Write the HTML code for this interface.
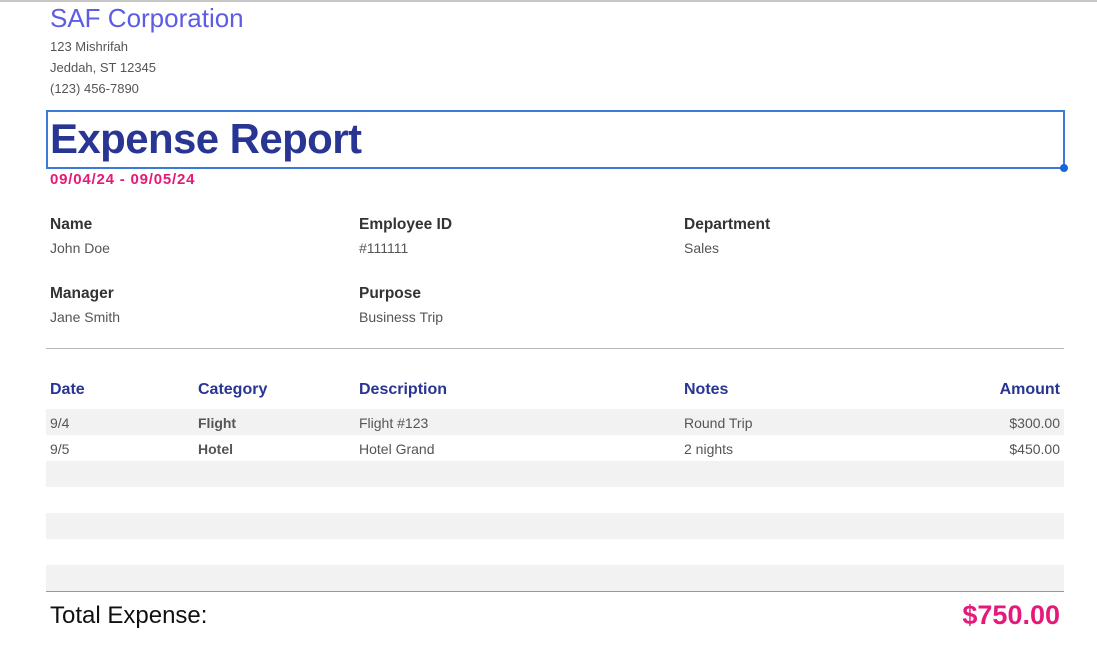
<!DOCTYPE html>
<html><head><style>
body{margin:0;width:1097px;height:656px;background:#fff;font-family:"Liberation Sans",sans-serif;position:relative;overflow:hidden}
div{position:absolute;white-space:nowrap}
.a{font-size:13px;color:#555;left:50px}
.l{font-size:15.5px;font-weight:bold;color:#333}
.v{font-size:14px;color:#555}
.h{font-size:16px;font-weight:bold;color:#283593;top:381px}
.s{left:46px;width:1018px;height:26px;background:#f2f2f2}
.c{font-size:14px;color:#555}
</style></head><body>
<div style="left:0;top:0;width:1097px;height:2px;background:#c8c8c8"></div>
<div style="left:50px;top:3px;font-size:26px;color:#5c5ce6">SAF Corporation</div>
<div class="a" style="top:39px">123 Mishrifah</div>
<div class="a" style="top:60px">Jeddah, ST 12345</div>
<div class="a" style="top:81px">(123) 456-7890</div>
<div style="left:46px;top:110px;width:1015px;height:55px;border:2px solid #3a7bd5"></div>
<div style="left:1060px;top:164px;width:8px;height:8px;border-radius:50%;background:#1a66d6"></div>
<div style="left:50px;top:115px;font-size:42px;font-weight:bold;color:#283593;letter-spacing:-0.6px">Expense Report</div>
<div style="left:50px;top:171px;font-size:15px;font-weight:bold;color:#e6197a;letter-spacing:0.8px">09/04/24 - 09/05/24</div>
<div class="l" style="left:50px;top:216px">Name</div><div class="v" style="left:50px;top:240px">John Doe</div>
<div class="l" style="left:359px;top:216px">Employee ID</div><div class="v" style="left:359px;top:240px">#111111</div>
<div class="l" style="left:684px;top:216px">Department</div><div class="v" style="left:684px;top:240px">Sales</div>
<div class="l" style="left:50px;top:285px">Manager</div><div class="v" style="left:50px;top:309px">Jane Smith</div>
<div class="l" style="left:359px;top:285px">Purpose</div><div class="v" style="left:359px;top:309px">Business Trip</div>
<div style="left:46px;top:348px;width:1018px;height:1px;background:#bbb"></div>
<div class="h" style="left:50px">Date</div>
<div class="h" style="left:198px">Category</div>
<div class="h" style="left:359px">Description</div>
<div class="h" style="left:684px">Notes</div>
<div class="h" style="right:37px">Amount</div>
<div class="s" style="top:409px"></div>
<div class="s" style="top:461px"></div>
<div class="s" style="top:513px"></div>
<div class="s" style="top:565px"></div>
<div class="c" style="left:50px;top:415px">9/4</div>
<div class="c" style="left:198px;top:415px;font-weight:bold">Flight</div>
<div class="c" style="left:359px;top:415px">Flight #123</div>
<div class="c" style="left:684px;top:415px">Round Trip</div>
<div class="c" style="right:37px;top:415px">$300.00</div>
<div class="c" style="left:50px;top:441px">9/5</div>
<div class="c" style="left:198px;top:441px;font-weight:bold">Hotel</div>
<div class="c" style="left:359px;top:441px">Hotel Grand</div>
<div class="c" style="left:684px;top:441px">2 nights</div>
<div class="c" style="right:37px;top:441px">$450.00</div>
<div style="left:46px;top:591px;width:1018px;height:1px;background:#999"></div>
<div style="left:50px;top:602px;font-size:24px;color:#111">Total Expense:</div>
<div style="right:37px;top:600px;font-size:27px;font-weight:bold;color:#e6197a">$750.00</div>
</body></html>
